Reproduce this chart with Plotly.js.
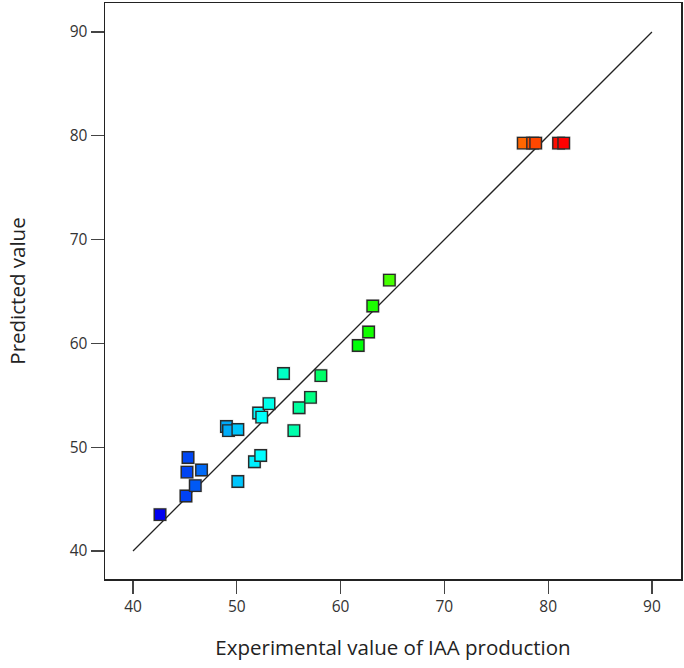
<!DOCTYPE html>
<html><head><meta charset="utf-8">
<script src="https://cdn.plot.ly/plotly-3.0.1.min.js"></script>
<style>html,body{margin:0;padding:0;background:#fff}#chart{width:684px;height:668px}</style>
</head><body><div id="chart"></div>
<script>
// Actual (experimental) and predicted IAA production values
var actual = [42.6, 45.1, 46.0, 46.6, 45.2, 45.3, 49.0, 49.2, 50.1, 50.1, 51.7, 52.3, 52.1, 52.4, 53.1, 54.5, 55.5, 56.0, 57.1, 58.1, 61.7, 62.7, 63.1, 64.7, 77.6, 78.5, 78.8, 81.0, 81.5];
var predicted = [43.5, 45.3, 46.3, 47.8, 47.6, 49.0, 52.0, 51.6, 51.7, 46.7, 48.6, 49.2, 53.3, 52.9, 54.2, 57.1, 51.6, 53.8, 54.8, 56.9, 59.8, 61.1, 63.6, 66.1, 79.3, 79.3, 79.3, 79.3, 79.3];
var lineX = [40, 90];
var lineY = [40, 90];
var ticks = [40, 50, 60, 70, 80, 90];

var cscale = [[0, '#0000f0'], [0.25, '#00ffff'], [0.5, '#00ff00'], [0.75, '#ffff00'], [1, '#ff0000']];
var font = "'Open Sans', 'Noto Sans', sans-serif";

var traces = [
  {x: lineX, y: lineY, mode: 'lines', line: {color: '#222', width: 1.3}, hoverinfo: 'skip', showlegend: false},
  {x: actual, y: predicted, mode: 'markers', showlegend: false, hoverinfo: 'skip',
   marker: {symbol: 'square', size: 14, color: 'rgba(0,0,0,0.12)', line: {width: 0}}},
  {x: actual, y: predicted, mode: 'markers', showlegend: false,
   marker: {symbol: 'square', size: 11.5, color: actual, colorscale: cscale, cmin: 42.6, cmax: 81.5,
            line: {color: '#2a2a2a', width: 1.4}}}
];

var axisCommon = {
  range: [37.3, 92.8], tickvals: ticks, ticks: 'outside', ticklen: 13, tickwidth: 1.3, tickcolor: '#444',
  showline: true, mirror: true, linecolor: '#222', linewidth: 1.5, showgrid: false, zeroline: false,
  tickfont: {family: font, size: 15.5, color: '#333'}
};

var layout = {
  width: 684, height: 668,
  margin: {l: 105, r: 3, t: 3, b: 89},
  paper_bgcolor: '#fff', plot_bgcolor: '#fff',
  xaxis: Object.assign({}, axisCommon, {title: {text: 'Experimental value of IAA production', font: {family: font, size: 20.5, color: '#222'}, standoff: 24}}),
  yaxis: Object.assign({}, axisCommon, {title: {text: 'Predicted value', font: {family: font, size: 20.5, color: '#222'}, standoff: 38}})
};

Plotly.newPlot('chart', traces, layout, {staticPlot: true});
</script></body></html>
